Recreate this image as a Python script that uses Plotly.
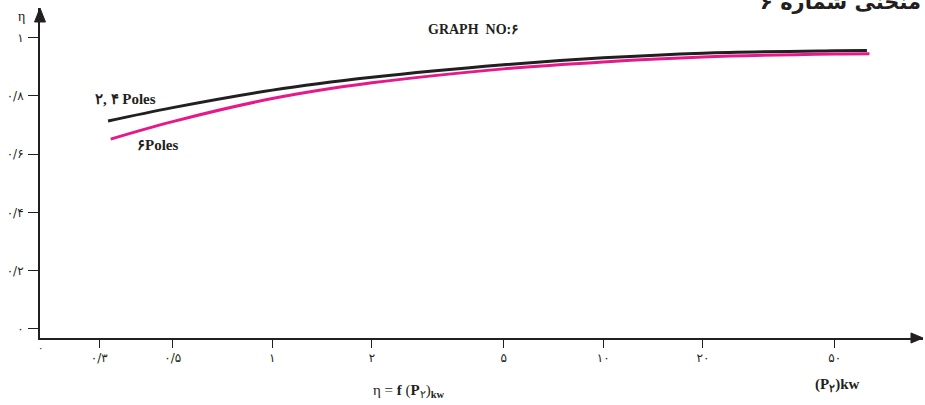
import plotly.graph_objects as go

# Output power P2 (kW) and efficiency for each pole group
p_2_4_poles = [0.319, 0.5, 1, 2, 5, 10, 20, 50, 62.6]
eta_2_4_poles = [0.714, 0.760, 0.820, 0.864, 0.907, 0.931, 0.947, 0.955, 0.956]

p_6_poles = [0.325, 0.5, 1, 2, 5, 10, 20, 50, 63.7]
eta_6_poles = [0.652, 0.712, 0.791, 0.845, 0.893, 0.917, 0.934, 0.944, 0.945]

x_tick_vals = [0.3, 0.5, 1, 2, 5, 10, 20, 50]
x_tick_text = ["۰/۳", "۰/۵", "۱", "۲", "۵", "۱۰", "۲۰", "۵۰"]
y_tick_vals = [0, 0.2, 0.4, 0.6, 0.8, 1.0]
y_tick_text = ["۰", "۰/۲", "۰/۴", "۰/۶", "۰/۸", "۱"]

INK = "#231f20"
MAGENTA = "#e6198b"
SERIF = "Liberation Serif, Times New Roman, serif"
DIGITS = "DejaVu Sans, sans-serif"

fig = go.Figure()
fig.add_trace(go.Scatter(
    x=p_2_4_poles, y=eta_2_4_poles, mode="lines",
    line=dict(color=INK, width=3, shape="spline", smoothing=1.0),
    name="2, 4 Poles", showlegend=False))
fig.add_trace(go.Scatter(
    x=p_6_poles, y=eta_6_poles, mode="lines",
    line=dict(color=MAGENTA, width=3, shape="spline", smoothing=1.0),
    name="6 Poles", showlegend=False))

fig.update_xaxes(
    type="log", range=[-0.7018, 1.966],
    tickvals=x_tick_vals, ticktext=x_tick_text,
    ticks="outside", ticklen=8, tickwidth=1, tickcolor=INK,
    showline=True, linewidth=2, linecolor=INK,
    showgrid=False, zeroline=False,
    tickfont=dict(family=DIGITS, size=12, color=INK),
    ticklabelstandoff=0,
)
fig.update_yaxes(
    range=[-0.031, 1.102],
    tickvals=y_tick_vals, ticktext=y_tick_text,
    ticks="outside", ticklen=10, tickwidth=1, tickcolor=INK,
    showline=True, linewidth=2, linecolor=INK,
    showgrid=False, zeroline=False,
    tickfont=dict(family=DIGITS, size=12, color=INK),
    ticklabelstandoff=2,
)

annotations = [
    dict(text="<b>۲, ۴ Poles</b>", x=-0.445, y=0.788, xref="x", yref="y",
         font=dict(family=SERIF, size=15, color=INK)),
    dict(text="<b>۶Poles</b>", x=-0.348, y=0.632, xref="x", yref="y",
         font=dict(family=SERIF, size=15, color=INK)),
    dict(text="<b>GRAPH  NO:۶</b>", x=0.4915, y=0.936, xref="paper", yref="paper",
         font=dict(family=SERIF, size=14, color=INK)),
    dict(text="η", x=-0.0204, y=0.973, xref="paper", yref="paper",
         font=dict(family=SERIF, size=14, color=INK)),
    dict(text="۰", x=0.0, y=-0.0303, xref="paper", yref="paper",
         font=dict(family=DIGITS, size=10, color=INK)),
    dict(text="η = <b>f</b> (<b>P</b><sub>۲</sub>)<sub><b>kw</b></sub>",
         x=0.418, y=-0.161, xref="paper", yref="paper",
         font=dict(family=SERIF, size=15, color=INK)),
    dict(text="<b>(P<sub>۲</sub>)kw</b>", x=0.9037, y=-0.141, xref="paper", yref="paper",
         font=dict(family=SERIF, size=15, color=INK)),
    dict(text="<b>منحنی شماره ۶</b>", x=1.0, y=1.018, xref="paper", yref="paper",
         xanchor="right", yanchor="middle",
         font=dict(family=DIGITS, size=21, color=INK)),
]
for a in annotations:
    a.setdefault("showarrow", False)
    a.setdefault("xanchor", "center")
    a.setdefault("yanchor", "middle")
    fig.add_annotation(**a)

# Arrowheads at the ends of both axes
fig.add_shape(type="path", xref="paper", yref="paper",
              path="M 0.9864,0.0152 L 1,0 L 0.9864,-0.0152 Z",
              fillcolor=INK, line=dict(color=INK, width=1))
fig.add_shape(type="path", xref="paper", yref="paper",
              path="M -0.0062,0.9576 L 0,1 L 0.0062,0.9576 Z",
              fillcolor=INK, line=dict(color=INK, width=1))

fig.update_layout(
    width=925, height=405,
    margin=dict(l=40, r=2, t=8, b=67),
    paper_bgcolor="white", plot_bgcolor="white",
)

fig.write_html("out.html")
